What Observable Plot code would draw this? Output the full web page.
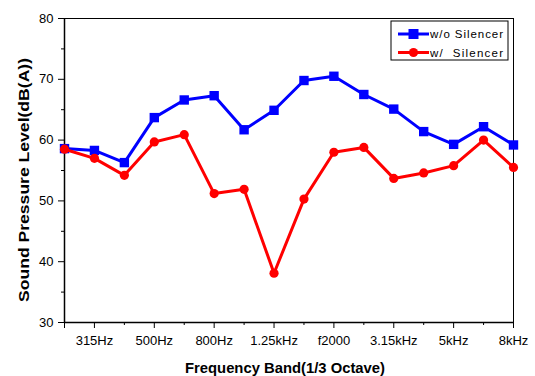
<!DOCTYPE html>
<html>
<head>
<meta charset="utf-8">
<script src="https://cdn.jsdelivr.net/npm/d3@7"></script>
<script src="https://cdn.jsdelivr.net/npm/@observablehq/plot@0.6"></script>
<style>
html,body{margin:0;padding:0;background:#fff;}
#chart{width:535px;height:376px;}
</style>
</head>
<body>
<div id="chart"></div>
<script>
// 1/3-octave bands (index positions on the x axis)
const bands = ["250Hz","315Hz","400Hz","500Hz","630Hz","800Hz","1kHz","1.25kHz","1.6kHz","f2000","2.5kHz","3.15kHz","4kHz","5kHz","6.3kHz","8kHz"];
const woSilencer = [58.6, 58.3, 56.3, 63.7, 66.6, 67.3, 61.7, 64.9, 69.8, 70.5, 67.5, 65.1, 61.4, 59.3, 62.2, 59.2];
const wSilencer  = [58.5, 57.0, 54.2, 59.7, 60.9, 51.2, 51.9, 38.1, 50.3, 58.0, 58.8, 53.7, 54.6, 55.8, 60.0, 55.5];
const xTickLabels = {1:"315Hz", 3:"500Hz", 5:"800Hz", 7:"1.25kHz", 9:"f2000", 11:"3.15kHz", 13:"5kHz", 15:"8kHz"};
const yMajorTicks = [30, 40, 50, 60, 70, 80];
const yMinorTicks = [35, 45, 55, 65, 75];
const seriesNames = ["w/o Silencer", "w/  Silencer"];

const dataWo = bands.map((b, i) => ({i, band: b, v: woSilencer[i]}));
const dataW = bands.map((b, i) => ({i, band: b, v: wSilencer[i]}));
const majorX = Object.keys(xTickLabels).map(Number);
const minorX = bands.map((b, i) => i).filter(i => !(i in xTickLabels));

const font = "Liberation Sans, Arial, sans-serif";

const chart = Plot.plot({
  width: 535,
  height: 376,
  marginLeft: 64,
  marginRight: 22,
  marginTop: 18,
  marginBottom: 54,
  style: {fontFamily: font, fontSize: "13px", color: "#000", background: "#fff"},
  x: {type: "linear", domain: [0, 15]},
  y: {domain: [30, 80]},
  marks: [
    Plot.frame({stroke: "#000", strokeWidth: 1}),
    Plot.axisX({ticks: majorX, tickFormat: d => xTickLabels[d], tickSize: 6, tickPadding: 7, label: null, stroke: "#000"}),
    Plot.axisX({ticks: minorX, tickFormat: () => "", tickSize: 3, label: null, stroke: "#000"}),
    Plot.axisX({ticks: [0], tickFormat: () => "", tickSize: 6, label: null, stroke: "#000"}),
    Plot.axisY({ticks: yMajorTicks, tickSize: 6, tickPadding: 5, label: null, stroke: "#000"}),
    Plot.axisY({ticks: yMinorTicks, tickFormat: () => "", tickSize: 3, label: null, stroke: "#000"}),
    Plot.ruleX([0], {stroke: "#000", strokeWidth: 1.5}),
    Plot.ruleY([30], {stroke: "#000", strokeWidth: 1.5}),
    Plot.line(dataWo, {x: "i", y: "v", stroke: "#0000ff", strokeWidth: 3}),
    Plot.dot(dataWo, {x: "i", y: "v", symbol: "square", r: 5.3, fill: "#0000ff"}),
    Plot.line(dataW, {x: "i", y: "v", stroke: "#ff0000", strokeWidth: 3}),
    Plot.dot(dataW, {x: "i", y: "v", symbol: "circle", r: 4.6, fill: "#ff0000"})
  ]
});

document.getElementById("chart").appendChild(chart);

const svg = d3.select(chart);
// axis titles
svg.append("text")
  .attr("x", 285).attr("y", 373)
  .attr("text-anchor", "middle")
  .attr("font-family", font).attr("font-weight", "bold").attr("font-size", 15)
  .attr("textLength", 200).attr("lengthAdjust", "spacingAndGlyphs")
  .attr("fill", "#000")
  .text("Frequency Band(1/3 Octave)");
svg.append("text")
  .attr("transform", "translate(29,180) rotate(-90)")
  .attr("text-anchor", "middle")
  .attr("font-family", font).attr("font-weight", "bold").attr("font-size", 15.5)
  .attr("textLength", 244).attr("lengthAdjust", "spacingAndGlyphs")
  .attr("fill", "#000")
  .text("Sound Pressure Level(dB(A))");

// legend
const lg = svg.append("g");
lg.append("rect").attr("x", 391).attr("y", 21).attr("width", 117).attr("height", 39)
  .attr("fill", "#fff").attr("stroke", "#000").attr("stroke-width", 1);
const colors = ["#0000ff", "#ff0000"];
seriesNames.forEach((name, k) => {
  const y = 34 + k * 18.5;
  lg.append("line").attr("x1", 398).attr("x2", 429).attr("y1", y).attr("y2", y)
    .attr("stroke", colors[k]).attr("stroke-width", 3);
  if (k === 0) {
    lg.append("rect").attr("x", 408.5).attr("y", y - 5).attr("width", 10).attr("height", 10).attr("fill", colors[k]);
  } else {
    lg.append("circle").attr("cx", 413.5).attr("cy", y).attr("r", 4.6).attr("fill", colors[k]);
  }
  lg.append("text").attr("x", 430).attr("y", y + 4)
    .attr("text-anchor", "start")
    .attr("font-family", font).attr("font-size", 11.5)
    .attr("textLength", 73).attr("lengthAdjust", "spacing")
    .attr("xml:space", "preserve")
    .style("white-space", "pre")
    .attr("fill", "#000")
    .text(name);
});
</script>
</body>
</html>
